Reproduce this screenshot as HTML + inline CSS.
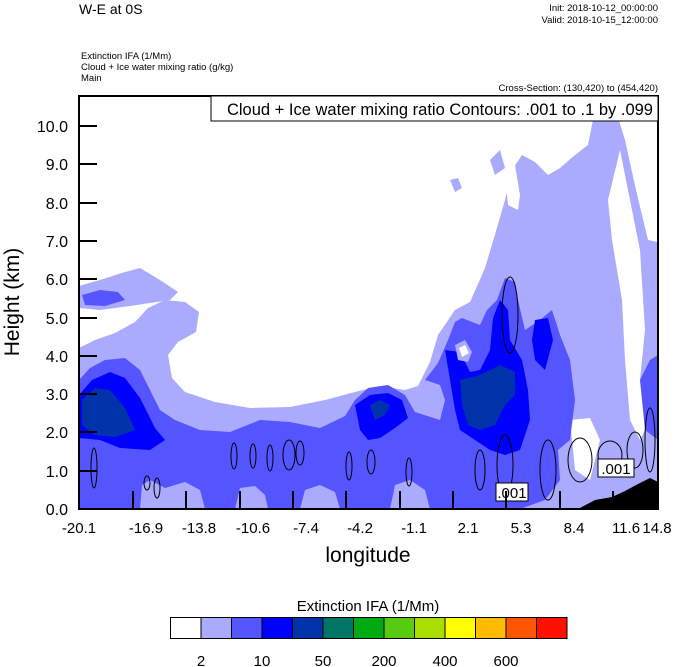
<!DOCTYPE html>
<html><head><meta charset="utf-8"><style>
html,body{margin:0;padding:0;background:#fff;}
svg{display:block;font-family:"Liberation Sans",sans-serif;}
</style></head><body>
<svg width="674" height="667" viewBox="0 0 674 667" xmlns="http://www.w3.org/2000/svg">
<rect width="674" height="667" fill="#fff"/>
<text x="79" y="14" font-size="14">W-E at 0S</text>
<text x="658" y="11" font-size="9.5" text-anchor="end">Init: 2018-10-12_00:00:00</text>
<text x="658" y="23" font-size="9.5" text-anchor="end">Valid: 2018-10-15_12:00:00</text>
<text x="81" y="59" font-size="9.5">Extinction IFA   (1/Mm)</text>
<text x="81" y="70" font-size="9.5">Cloud + Ice water mixing ratio   (g/kg)</text>
<text x="81" y="81" font-size="9.5">Main</text>
<text x="658" y="91" font-size="9.5" text-anchor="end">Cross-Section: (130,420) to (454,420)</text>

<defs><clipPath id="c"><rect x="79" y="96" width="579" height="413"/></clipPath></defs>
<g clip-path="url(#c)">
<path fill="#aaaaff" d="M79,348 L95,340 L115,333 L135,322 L148,308 L165,300 L185,302 L199,312 L196,332 L178,342 L168,355 L172,378 L185,392 L215,402 L250,408 L290,407 L325,400 L355,392 L380,386 L405,390 L418,386 L430,362 L438,335 L455,310 L470,302 L485,268 L494,238 L505,200 L512,170 L522,155 L535,162 L548,175 L560,168 L575,155 L588,145 L596,105 L615,108 L625,140 L636,190 L648,240 L658,242 L658,509 L79,509 Z"/>
<path fill="#aaaaff" d="M79,286 L100,280 L125,272 L140,268 L160,280 L178,292 L170,300 L130,306 L100,310 L79,308 Z"/>
<path fill="#aaaaff" d="M450,180 L458,178 L462,188 L455,192 Z"/>
<path fill="#aaaaff" d="M490,160 L500,150 L505,168 L495,175 Z"/>
<path fill="#fff" d="M620,150 L628,190 L640,250 L645,330 L640,380 L650,420 L640,440 L630,420 L625,360 L622,300 L612,240 L608,200 Z"/>
<path fill="#fff" d="M505,175 L515,165 L520,195 L518,210 L508,205 Z"/>
<path fill="#fff" d="M570,420 L590,418 L600,440 L590,480 L575,470 Z"/>
<path fill="#fff" d="M455,440 L470,430 L480,440 L468,452 Z"/>
<path fill="#5555ff" d="M79,380 L90,368 L105,360 L125,358 L140,370 L150,390 L160,410 L175,420 L200,430 L230,432 L260,420 L290,422 L320,428 L345,416 L355,400 L368,388 L388,385 L405,395 L415,412 L440,420 L445,400 L440,385 L425,380 L438,363 L448,340 L455,322 L462,318 L480,325 L487,310 L497,300 L505,278 L515,282 L518,300 L525,330 L540,320 L552,310 L560,335 L570,360 L575,400 L570,440 L558,450 L560,480 L545,500 L520,509 L79,509 Z"/>
<path fill="#5555ff" d="M82,295 L100,290 L118,292 L125,300 L105,306 L85,305 Z"/>
<path fill="#5555ff" d="M640,380 L650,360 L658,355 L658,440 L645,430 Z"/>
<!-- light patches near ground -->
<path fill="#aaaaff" d="M140,509 L142,485 L150,480 L165,488 L185,482 L200,490 L205,509 Z"/>
<path fill="#aaaaff" d="M235,509 L240,488 L255,486 L265,495 L268,509 Z"/>
<path fill="#aaaaff" d="M300,509 L305,490 L320,485 L335,492 L340,509 Z"/>
<path fill="#aaaaff" d="M390,509 L395,485 L410,480 L425,490 L430,509 Z"/>
<path fill="#0000ff" d="M79,395 L92,380 L110,372 L125,378 L140,398 L155,428 L165,440 L150,450 L120,448 L100,440 L79,438 Z"/>
<path fill="#0000ff" d="M355,405 L370,395 L388,393 L402,400 L408,418 L395,428 L380,438 L368,440 L360,430 Z"/>
<path fill="#0000ff" d="M445,350 L460,352 L470,372 L480,370 L490,350 L493,318 L500,300 L508,310 L510,340 L522,360 L528,390 L530,420 L520,450 L505,455 L490,450 L475,440 L460,430 L455,410 L450,380 Z"/>
<path fill="#0000ff" d="M535,320 L548,318 L553,340 L545,370 L535,360 L532,340 Z"/>
<path fill="#aaaaff" d="M455,345 L465,340 L472,352 L468,362 L458,360 Z"/>
<path fill="#fff" d="M459,348 L465,345 L469,353 L462,357 Z"/>
<path fill="#0033aa" d="M82,400 L95,388 L110,390 L125,408 L135,430 L115,437 L95,435 L82,425 Z"/>
<path fill="#0033aa" d="M370,405 L380,400 L390,405 L385,415 L375,420 Z"/>
<path fill="#0033aa" d="M460,380 L480,375 L500,365 L515,372 L515,395 L505,405 L495,425 L480,430 L468,425 L462,405 Z"/>
<g fill="none" stroke="#000" stroke-width="1">
<ellipse cx="94" cy="468" rx="3" ry="20"/>
<ellipse cx="234" cy="456" rx="3" ry="13"/>
<ellipse cx="253" cy="456" rx="3" ry="12"/>
<ellipse cx="270" cy="458" rx="3" ry="13"/>
<ellipse cx="289" cy="455" rx="6" ry="15"/>
<ellipse cx="300" cy="453" rx="4" ry="12"/>
<ellipse cx="349" cy="466" rx="3" ry="14"/>
<ellipse cx="371" cy="462" rx="4" ry="12"/>
<ellipse cx="409" cy="472" rx="3" ry="14"/>
<ellipse cx="510" cy="315" rx="8" ry="38"/>
<ellipse cx="480" cy="470" rx="5" ry="20"/>
<ellipse cx="505" cy="465" rx="8" ry="30"/>
<ellipse cx="548" cy="470" rx="8" ry="30"/>
<ellipse cx="580" cy="460" rx="12" ry="22"/>
<ellipse cx="610" cy="455" rx="12" ry="14"/>
<ellipse cx="635" cy="450" rx="8" ry="18"/>
<ellipse cx="650" cy="440" rx="5" ry="32"/>
<ellipse cx="157" cy="488" rx="3" ry="10"/>
<ellipse cx="147" cy="483" rx="3" ry="7"/>
</g>
<path fill="#000" d="M578,509 L595,500 L612,497 L625,491 L640,483 L650,478 L658,482 L658,509 Z"/>
</g>
<rect x="496" y="483" width="32" height="18" fill="#fff" stroke="#000" stroke-width="1"/>
<text x="512" y="498" font-size="15" text-anchor="middle">.001</text>
<rect x="598" y="459" width="36" height="18" fill="#fff" stroke="#000" stroke-width="1"/>
<text x="616" y="474" font-size="15" text-anchor="middle">.001</text>

<rect x="79" y="96" width="579" height="413" fill="none" stroke="#000" stroke-width="2"/>
<rect x="211" y="96" width="447" height="25" fill="#fff" stroke="#000" stroke-width="1"/>
<text x="653" y="115" font-size="16.5" text-anchor="end">Cloud + Ice water mixing ratio Contours: .001 to .1 by .099</text>

<g stroke="#000" stroke-width="2">
<line x1="79" y1="126" x2="97" y2="126"/><line x1="79" y1="164" x2="97" y2="164"/>
<line x1="79" y1="203" x2="97" y2="203"/><line x1="79" y1="241" x2="97" y2="241"/>
<line x1="79" y1="279" x2="97" y2="279"/><line x1="79" y1="318" x2="97" y2="318"/>
<line x1="79" y1="356" x2="97" y2="356"/><line x1="79" y1="394" x2="97" y2="394"/>
<line x1="79" y1="432" x2="97" y2="432"/><line x1="79" y1="471" x2="97" y2="471"/>
<line x1="133" y1="509" x2="133" y2="491"/><line x1="186" y1="509" x2="186" y2="491"/>
<line x1="240" y1="509" x2="240" y2="491"/><line x1="293" y1="509" x2="293" y2="491"/>
<line x1="346" y1="509" x2="346" y2="491"/><line x1="400" y1="509" x2="400" y2="491"/>
<line x1="453" y1="509" x2="453" y2="491"/><line x1="506" y1="509" x2="506" y2="491"/>
<line x1="560" y1="509" x2="560" y2="491"/><line x1="613" y1="509" x2="613" y2="491"/>
</g>
<g font-size="16" text-anchor="end">
<text x="68" y="132">10.0</text><text x="68" y="170">9.0</text><text x="68" y="209">8.0</text>
<text x="68" y="247">7.0</text><text x="68" y="285">6.0</text><text x="68" y="324">5.0</text>
<text x="68" y="362">4.0</text><text x="68" y="400">3.0</text><text x="68" y="438">2.0</text>
<text x="68" y="477">1.0</text><text x="68" y="515">0.0</text>
</g>
<g font-size="15" text-anchor="middle">
<text x="79" y="533">-20.1</text><text x="146" y="533">-16.9</text><text x="199" y="533">-13.8</text>
<text x="253" y="533">-10.6</text><text x="306" y="533">-7.4</text><text x="360" y="533">-4.2</text>
<text x="414" y="533">-1.1</text><text x="468" y="533">2.1</text><text x="521" y="533">5.3</text>
<text x="574" y="533">8.4</text><text x="626" y="533">11.6</text><text x="657" y="533">14.8</text>
</g>
<text x="368" y="562" font-size="21" text-anchor="middle">longitude</text>
<text transform="translate(19,302) rotate(-90)" font-size="21" text-anchor="middle">Height (km)</text>

<text x="368" y="611" font-size="15" text-anchor="middle">Extinction IFA  (1/Mm)</text>
<g stroke="#000" stroke-width="1">
<rect x="170.5" y="617.5" width="30.5" height="21" fill="#ffffff"/>
<rect x="201" y="617.5" width="30.5" height="21" fill="#aaaaff"/>
<rect x="231.5" y="617.5" width="30.5" height="21" fill="#5555ff"/>
<rect x="262" y="617.5" width="30.5" height="21" fill="#0000ff"/>
<rect x="292.5" y="617.5" width="30.5" height="21" fill="#0033aa"/>
<rect x="323" y="617.5" width="30.5" height="21" fill="#007766"/>
<rect x="353.5" y="617.5" width="30.5" height="21" fill="#00aa11"/>
<rect x="384" y="617.5" width="30.5" height="21" fill="#55cc11"/>
<rect x="414.5" y="617.5" width="30.5" height="21" fill="#aadd00"/>
<rect x="445" y="617.5" width="30.5" height="21" fill="#ffff00"/>
<rect x="475.5" y="617.5" width="30.5" height="21" fill="#ffbb00"/>
<rect x="506" y="617.5" width="30.5" height="21" fill="#ff5500"/>
<rect x="536.5" y="617.5" width="30.5" height="21" fill="#ff1100"/>
</g>
<g font-size="15" text-anchor="middle">
<text x="201" y="666">2</text><text x="262" y="666">10</text><text x="323" y="666">50</text>
<text x="384" y="666">200</text><text x="445" y="666">400</text><text x="506" y="666">600</text>
</g>
</svg>
</body></html>
